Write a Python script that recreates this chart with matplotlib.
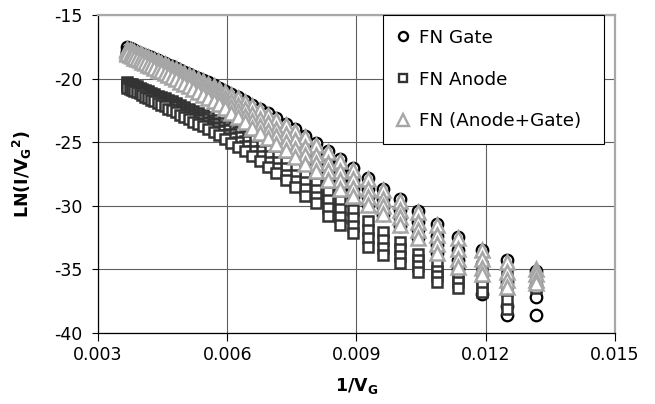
import matplotlib
matplotlib.use("Agg")
import matplotlib.pyplot as plt
from matplotlib.lines import Line2D

plt.rcParams['font.family'] = ['DejaVu Sans']
plt.rcParams['mathtext.fontset'] = 'dejavusans'

# ---------------- data ----------------
gate_voltage = [76, 80, 84, 88, 92, 96, 100, 104, 108, 112, 116, 120, 124, 128, 132, 136, 140, 144, 148, 152,
                156, 160, 164, 168, 172, 176, 180, 184, 188, 192, 196, 200, 204, 208, 212, 216, 220, 224, 228, 232,
                236, 240, 244, 248, 252, 256, 260, 264, 268, 272]

gate_sweep_1 = [-35.1, -34.3, -33.45, -32.45, -31.4, -30.4, -29.5, -28.65, -27.8, -27.05,
                -26.35, -25.7, -25.1, -24.5, -24.0, -23.55, -23.13, -22.74, -22.38, -22.05,
                -21.74, -21.45, -21.19, -20.94, -20.71, -20.5, -20.3, -20.11, -19.93, -19.76,
                -19.6, -19.45, -19.3, -19.16, -19.03, -18.9, -18.78, -18.66, -18.55, -18.44,
                -18.34, -18.24, -18.14, -18.05, -17.96, -17.87, -17.79, -17.71, -17.63, -17.55]
gate_sweep_2 = [-36.2, -36.0, -34.6, -33.45, -32.37, -31.29, -30.35, -29.5, -28.69, -27.98,
                -27.32, -26.65, -26.03, -25.43, -24.91, -24.44, -23.98, -23.57, -23.19, -22.82,
                -22.47, -22.14, -21.84, -21.55, -21.28, -21.05, -20.83, -20.62, -20.42, -20.23,
                -20.05, -19.89, -19.73, -19.57, -19.43, -19.29, -19.15, -19.02, -18.9, -18.78,
                -18.67, -18.56, -18.45, -18.35, -18.25, -18.15, -18.06, -17.98, -17.89, -17.8]
gate_sweep_3 = [-37.2, -37.9, -35.8, -34.25, -33.06, -31.92, -30.95, -30.1, -29.32, -28.64,
                -28.01, -27.33, -26.69, -26.09, -25.56, -25.07, -24.58, -24.16, -23.76, -23.36,
                -22.98, -22.62, -22.29, -21.97, -21.67, -21.43, -21.19, -20.97, -20.75, -20.55,
                -20.35, -20.18, -20.01, -19.84, -19.69, -19.54, -19.39, -19.25, -19.12, -18.99,
                -18.88, -18.76, -18.64, -18.53, -18.43, -18.33, -18.23, -18.14, -18.04, -17.95]
gate_sweep_4 = [-38.6, -38.6, -36.9, -34.95, -33.75, -32.55, -31.55, -30.7, -29.95, -29.3,
                -28.7, -28.0, -27.35, -26.75, -26.2, -25.7, -25.18, -24.74, -24.33, -23.9,
                -23.49, -23.1, -22.74, -22.39, -22.06, -21.8, -21.55, -21.31, -21.08, -20.86,
                -20.65, -20.47, -20.29, -20.11, -19.95, -19.79, -19.63, -19.48, -19.34, -19.21,
                -19.09, -18.96, -18.83, -18.72, -18.61, -18.5, -18.4, -18.3, -18.2, -18.1]

anode_sweep_1 = [-35.8, -35.5, -35.3, -35.0, -34.6, -33.8, -32.85, -32.05, -31.2, -30.35,
                 -29.6, -28.9, -28.2, -27.6, -27.05, -26.55, -26.05, -25.6, -25.2, -24.85,
                 -24.5, -24.2, -23.95, -23.7, -23.47, -23.25, -23.05, -22.85, -22.7, -22.55,
                 -22.4, -22.25, -22.1, -21.95, -21.8, -21.7, -21.55, -21.45, -21.35, -21.2,
                 -21.1, -21.0, -20.9, -20.8, -20.7, -20.6, -20.55, -20.45, -20.4, -20.3]
anode_sweep_2 = [-36.0, -36.6, -35.83, -35.53, -35.09, -34.29, -33.43, -32.7, -31.9, -30.98,
                 -30.27, -29.57, -28.76, -28.16, -27.58, -27.06, -26.54, -26.07, -25.66, -25.29,
                 -24.92, -24.6, -24.34, -24.07, -23.82, -23.59, -23.38, -23.17, -23.0, -22.84,
                 -22.68, -22.52, -22.36, -22.2, -22.04, -21.93, -21.77, -21.66, -21.56, -21.4,
                 -21.29, -21.19, -21.08, -20.97, -20.86, -20.76, -20.7, -20.6, -20.54, -20.44]
anode_sweep_3 = [-36.3, -37.4, -36.32, -36.02, -35.55, -34.75, -33.97, -33.31, -32.56, -31.57,
                 -30.89, -30.19, -29.29, -28.69, -28.07, -27.54, -27.0, -26.52, -26.08, -25.7,
                 -25.32, -24.98, -24.7, -24.41, -24.15, -23.91, -23.69, -23.46, -23.29, -23.12,
                 -22.94, -22.77, -22.6, -22.43, -22.26, -22.15, -21.98, -21.86, -21.75, -21.59,
                 -21.47, -21.36, -21.25, -21.13, -21.02, -20.91, -20.85, -20.74, -20.68, -20.57]
anode_sweep_4 = [-36.5, -38.1, -36.8, -36.5, -36.0, -35.2, -34.5, -33.9, -33.2, -32.15,
                 -31.5, -30.8, -29.8, -29.2, -28.55, -28.0, -27.45, -26.95, -26.5, -26.1,
                 -25.7, -25.35, -25.05, -24.75, -24.47, -24.22, -23.99, -23.75, -23.57, -23.39,
                 -23.2, -23.02, -22.84, -22.66, -22.48, -22.36, -22.18, -22.06, -21.94, -21.77,
                 -21.65, -21.53, -21.41, -21.29, -21.17, -21.05, -20.99, -20.87, -20.81, -20.7]

sum_sweep_1 = [-35.0, -34.4, -33.5, -32.55, -31.5, -30.5, -29.6, -28.75, -27.9, -27.15,
               -26.45, -25.8, -25.2, -24.6, -24.1, -23.65, -23.23, -22.84, -22.48, -22.15,
               -21.84, -21.55, -21.29, -21.04, -20.81, -20.6, -20.4, -20.21, -20.03, -19.86,
               -19.7, -19.55, -19.4, -19.26, -19.13, -19.0, -18.88, -18.76, -18.65, -18.54,
               -18.44, -18.34, -18.24, -18.15, -18.06, -17.97, -17.89, -17.81, -17.73, -17.65]
sum_sweep_2 = [-35.4, -35.2, -34.2, -33.4, -32.32, -31.24, -30.3, -29.45, -28.64, -27.93,
               -27.27, -26.6, -25.98, -25.38, -24.86, -24.39, -23.93, -23.52, -23.14, -22.77,
               -22.42, -22.09, -21.79, -21.5, -21.23, -21.0, -20.78, -20.57, -20.37, -20.18,
               -20.0, -19.84, -19.68, -19.52, -19.38, -19.24, -19.1, -18.97, -18.85, -18.73,
               -18.62, -18.51, -18.4, -18.3, -18.2, -18.1, -18.01, -17.93, -17.84, -17.75]
sum_sweep_3 = [-35.8, -35.8, -34.9, -34.2, -33.01, -31.87, -30.9, -30.05, -29.27, -28.59,
               -27.96, -27.28, -26.64, -26.04, -25.51, -25.02, -24.53, -24.11, -23.71, -23.31,
               -22.93, -22.57, -22.24, -21.92, -21.62, -21.38, -21.14, -20.92, -20.7, -20.5,
               -20.3, -20.13, -19.96, -19.79, -19.64, -19.49, -19.34, -19.2, -19.07, -18.94,
               -18.83, -18.71, -18.59, -18.48, -18.38, -18.28, -18.18, -18.09, -17.99, -17.9]
sum_sweep_4 = [-36.1, -36.4, -35.4, -34.85, -33.7, -32.5, -31.5, -30.65, -29.9, -29.25,
               -28.65, -27.95, -27.3, -26.7, -26.15, -25.65, -25.13, -24.69, -24.28, -23.85,
               -23.44, -23.05, -22.69, -22.34, -22.01, -21.75, -21.5, -21.26, -21.03, -20.81,
               -20.6, -20.42, -20.24, -20.06, -19.9, -19.74, -19.58, -19.43, -19.29, -19.16,
               -19.04, -18.91, -18.78, -18.67, -18.56, -18.45, -18.35, -18.25, -18.15, -18.05]

series_labels = ['FN Gate', 'FN Anode', 'FN (Anode+Gate)']
x_ticks = [0.003, 0.006, 0.009, 0.012, 0.015]
x_tick_labels = ['0.003', '0.006', '0.009', '0.012', '0.015']
y_ticks = [-40, -35, -30, -25, -20, -15]

# ---------------- figure ----------------
inv_v = [1.0 / v for v in gate_voltage]

fig = plt.figure(figsize=(6.55, 4.04), dpi=100)
ax = fig.add_axes([98 / 655, 1 - 333 / 404, 517 / 655, 318 / 404])

styles = [
    dict(marker='o', ms=8.3, mec='black', mew=1.6),
    dict(marker='s', ms=7.8, mec='#333333', mew=1.8),
    dict(marker='^', ms=10.0, mec='#a6a6a6', mew=1.8),
]
all_sweeps = [
    [gate_sweep_1, gate_sweep_2, gate_sweep_3, gate_sweep_4],
    [anode_sweep_1, anode_sweep_2, anode_sweep_3, anode_sweep_4],
    [sum_sweep_1, sum_sweep_2, sum_sweep_3, sum_sweep_4],
]
z = 3
for sweeps, st in zip(all_sweeps, styles):
    for sw in sweeps:
        ax.plot(inv_v[::-1], sw[::-1], ls='none', mfc='white', zorder=z, **st)
        z += 0.01

ax.set_xlim(0.003, 0.015)
ax.set_ylim(-40, -15)
ax.set_xticks(x_ticks)
ax.set_xticklabels(x_tick_labels)
ax.set_yticks(y_ticks)
ax.set_yticklabels([str(t) for t in y_ticks])

ax.grid(True, color='#5f5f5f', lw=0.8)
ax.set_axisbelow(True)

for s in ['left', 'bottom']:
    ax.spines[s].set_color('black')
    ax.spines[s].set_linewidth(0.9)
for s in ['top', 'right']:
    ax.spines[s].set_color('#a8a8a8')
    ax.spines[s].set_linewidth(1.6)

ax.tick_params(axis='y', direction='out', length=4.5, width=0.8, pad=7, labelsize=12.5, colors='black')
ax.tick_params(axis='x', direction='out', length=6, width=0.8, pad=3.5, labelsize=12.5, colors='black')

ax.set_ylabel(r'LN(I/V$_{\mathbf{G}}$$^{\mathbf{2}}$)', fontsize=12.5, fontweight='bold')
ax.yaxis.set_label_coords(-0.124, 0.5)
ax.set_xlabel(r'1/V$_{\mathbf{G}}$', fontsize=12.5, fontweight='bold')
ax.xaxis.set_label_coords(0.5, -0.135)

handles = [
    Line2D([], [], ls='none', marker='o', ms=6.5, mfc='white', mec='black', mew=1.7),
    Line2D([], [], ls='none', marker='s', ms=6.0, mfc='white', mec='#333333', mew=1.7),
    Line2D([], [], ls='none', marker='^', ms=8.0, mfc='white', mec='#a6a6a6', mew=1.7),
]
leg = ax.legend(handles, series_labels, loc='upper left',
                bbox_to_anchor=(285 / 517, 0.0, 221 / 517, 1.0), mode='expand',
                borderaxespad=0, fontsize=13.2, frameon=True, fancybox=False,
                edgecolor='black', framealpha=1, borderpad=0.75, labelspacing=1.3,
                handlelength=0.7, handletextpad=0.5)
leg.get_frame().set_linewidth(0.8)
leg.set_zorder(10)

fig.savefig('out.png', dpi=100)
